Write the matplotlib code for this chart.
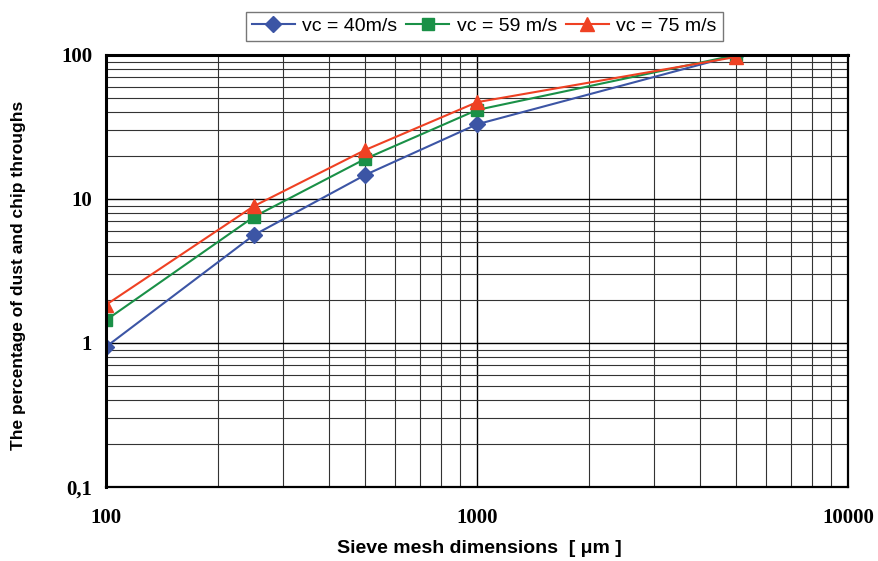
import matplotlib
matplotlib.use("Agg")
import matplotlib.pyplot as plt
from matplotlib.ticker import LogLocator, FixedLocator, FixedFormatter, NullFormatter

sieve_um = [100, 250, 500, 1000, 5000]
vc40 = [0.94, 5.6, 14.7, 33.0, 100.0]
vc59 = [1.44, 7.5, 19.0, 41.5, 100.0]
vc75 = [1.84, 8.9, 21.9, 47.0, 97.0]
labels = ["vc = 40m/s", "vc = 59 m/s", "vc = 75 m/s"]
xticks = [100, 1000, 10000]
xticklabels = ["100", "1000", "10000"]
yticks = [0.1, 1, 10, 100]
yticklabels = ["0,1", "1", "10", "100"]

fig = plt.figure(figsize=(8.79, 5.61), dpi=100)
ax = fig.add_axes([0.1206, 0.132, 0.8441, 0.770])

ax.plot(sieve_um, vc40, color="#3C55A5", marker="D", markersize=8, lw=1.5, label=labels[0])
ax.plot(sieve_um, vc59, color="#1A9047", marker="s", markersize=9, lw=1.5, label=labels[1])
ax.plot(sieve_um, vc75, color="#EF4123", marker="^", markersize=10, lw=1.5, label=labels[2])

ax.set_xscale("log")
ax.set_yscale("log")
ax.set_xlim(100, 10000)
ax.set_ylim(0.1, 100)

ax.xaxis.set_major_locator(FixedLocator(xticks))
ax.xaxis.set_major_formatter(FixedFormatter(xticklabels))
ax.yaxis.set_major_locator(FixedLocator(yticks))
ax.yaxis.set_major_formatter(FixedFormatter(yticklabels))
ax.xaxis.set_minor_locator(LogLocator(base=10, subs=range(2, 10)))
ax.yaxis.set_minor_locator(LogLocator(base=10, subs=range(2, 10)))
ax.xaxis.set_minor_formatter(NullFormatter())
ax.yaxis.set_minor_formatter(NullFormatter())

ax.grid(which="major", color="black", lw=1.0)
ax.grid(which="minor", color="#333333", lw=0.8)
ax.set_axisbelow(True)
ax.tick_params(which="both", length=0)
ax.tick_params(axis="x", pad=15)
ax.tick_params(axis="y", pad=10)

for lab in ax.get_xticklabels() + ax.get_yticklabels():
    lab.set_family("Liberation Serif")
    lab.set_fontweight("bold")
    lab.set_fontsize(15)

for s in ax.spines.values():
    s.set_color("black")
    s.set_linewidth(1.6)
ax.spines["top"].set_linewidth(2.2)
ax.spines["left"].set_linewidth(2.2)

ax.set_xlabel("Sieve mesh dimensions  [ μm ]", family="Liberation Sans", fontweight="bold", fontsize=14)
ax.set_ylabel("The percentage of dust and chip throughs", family="Liberation Sans", fontweight="bold", fontsize=12.5)
ax.xaxis.set_label_coords(0.503, -0.122)
ax.yaxis.set_label_coords(-0.108, 0.49)

leg = fig.legend(loc="center", bbox_to_anchor=(0.551, 0.953), ncol=3, frameon=True, fancybox=False,
                 prop={"family": "Liberation Sans", "size": 14}, handlelength=2.2, columnspacing=0.45,
                 handletextpad=0.4, borderpad=0.3, edgecolor="#555555")
leg.get_frame().set_linewidth(1.0)

fig.savefig("out.png", dpi=100)
